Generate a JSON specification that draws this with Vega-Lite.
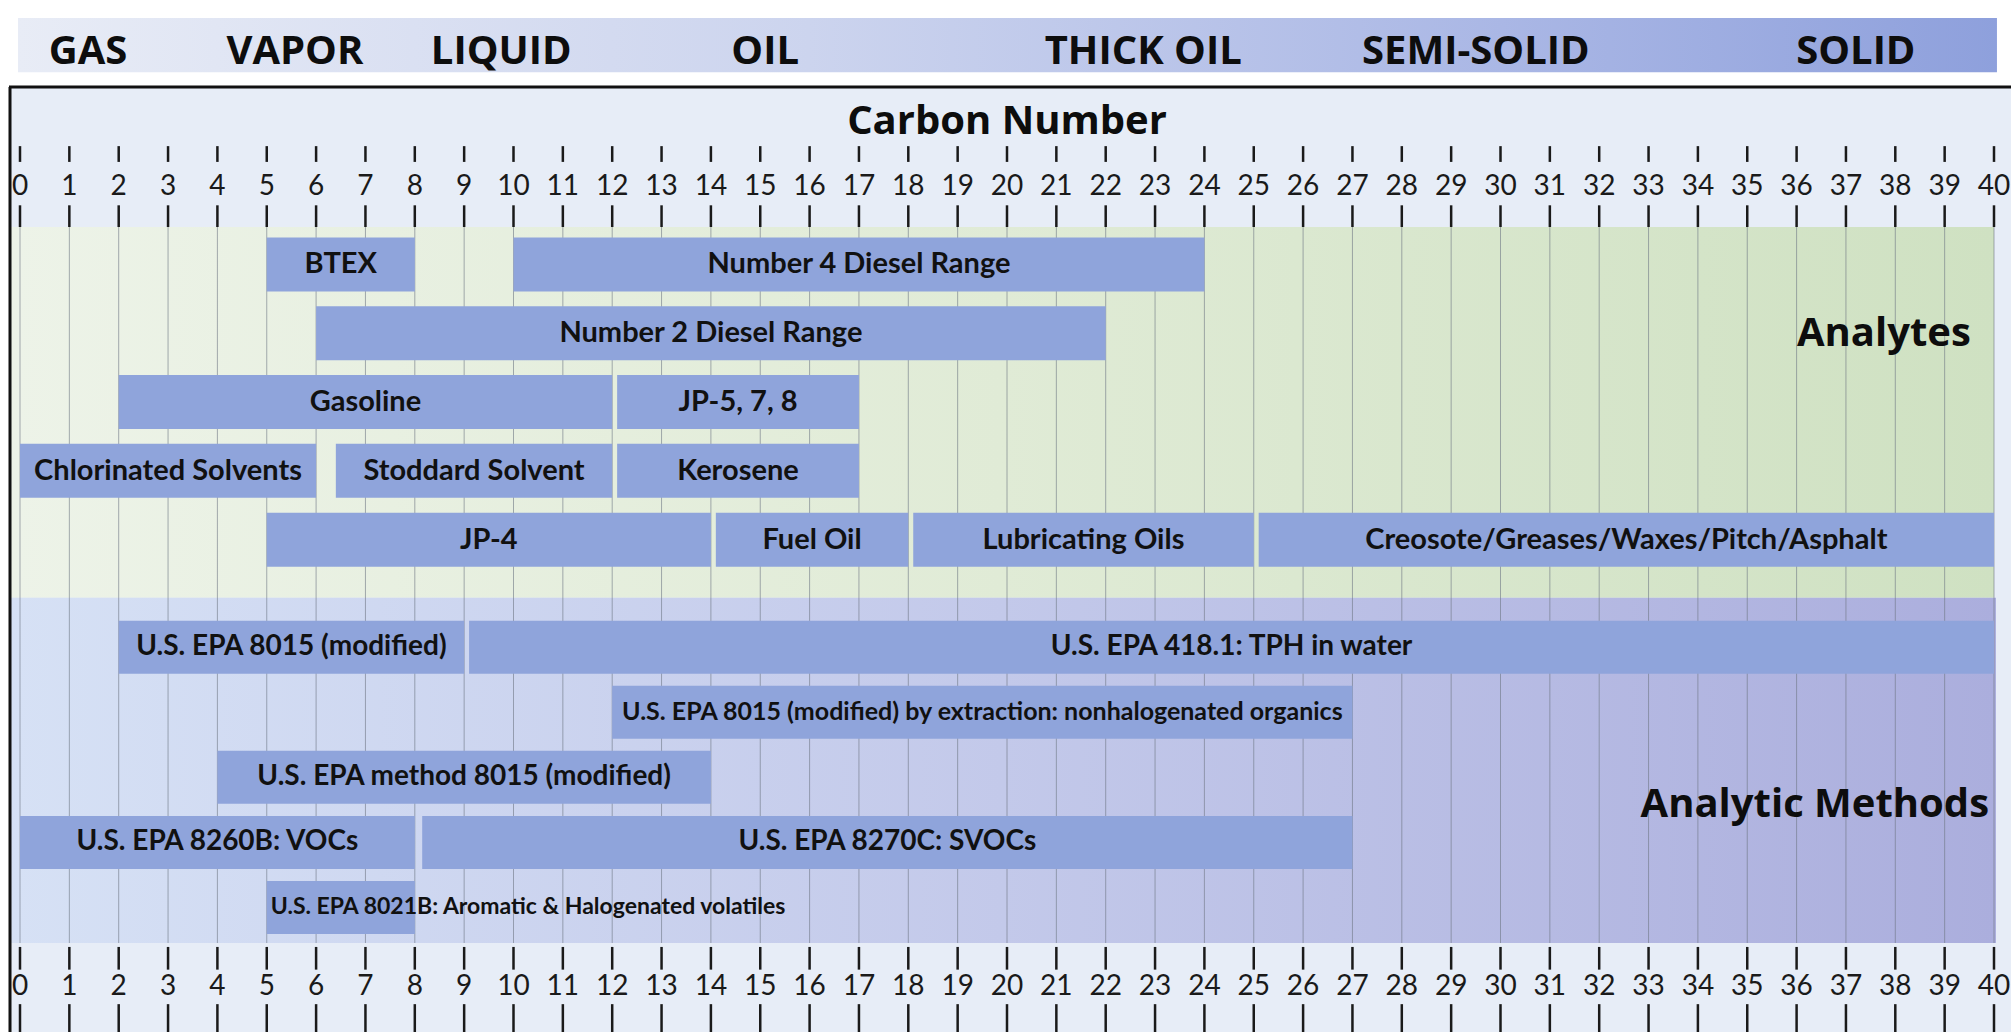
{
  "$schema": "https://vega.github.io/schema/vega-lite/v6.json",
  "width": 1974,
  "height": 726,
  "autosize": {"type": "none"},
  "padding": {"left": 20, "top": 222, "right": 17, "bottom": 84},
  "background": "#ffffff",
  "config": {"view": {"stroke": null}},
  "datasets": {
    "analytes": [
      {"name": "BTEX", "lane": 1, "start": 5, "end": 8},
      {"name": "Number 4 Diesel Range", "lane": 1, "start": 10, "end": 24},
      {"name": "Number 2 Diesel Range", "lane": 2, "start": 6, "end": 22},
      {"name": "Gasoline", "lane": 3, "start": 2, "end": 12},
      {"name": "JP-5, 7, 8", "lane": 3, "start": 12.1, "end": 17},
      {"name": "Chlorinated Solvents", "lane": 4, "start": 0, "end": 6},
      {"name": "Stoddard Solvent", "lane": 4, "start": 6.4, "end": 12},
      {"name": "Kerosene", "lane": 4, "start": 12.1, "end": 17},
      {"name": "JP-4", "lane": 5, "start": 5, "end": 14},
      {"name": "Fuel Oil", "lane": 5, "start": 14.1, "end": 18},
      {"name": "Lubricating Oils", "lane": 5, "start": 18.1, "end": 25},
      {"name": "Creosote/Greases/Waxes/Pitch/Asphalt", "lane": 5, "start": 25.1, "end": 40}
    ],
    "methods": [
      {"name": "U.S. EPA 8015 (modified)", "lane": 1, "start": 2, "end": 9},
      {"name": "U.S. EPA 418.1: TPH in water", "lane": 1, "start": 9.1, "end": 40},
      {"name": "U.S. EPA 8015 (modified) by extraction: nonhalogenated organics", "lane": 2, "start": 12, "end": 27},
      {"name": "U.S. EPA method 8015 (modified)", "lane": 3, "start": 4, "end": 14},
      {"name": "U.S. EPA 8260B: VOCs", "lane": 4, "start": 0, "end": 8},
      {"name": "U.S. EPA 8270C: SVOCs", "lane": 4, "start": 8.15, "end": 27},
      {"name": "U.S. EPA 8021B: Aromatic & Halogenated volatiles", "lane": 5, "start": 5, "end": 8}
    ],
    "states": [
      {"state": "GAS", "c": 1.38},
      {"state": "VAPOR", "c": 5.57},
      {"state": "LIQUID", "c": 9.75},
      {"state": "OIL", "c": 15.1},
      {"state": "THICK OIL", "c": 22.76},
      {"state": "SEMI-SOLID", "c": 29.5},
      {"state": "SOLID", "c": 37.2}
    ],
    "carbon": [
      {"c": 0}, {"c": 1}, {"c": 2}, {"c": 3}, {"c": 4}, {"c": 5}, {"c": 6}, {"c": 7}, {"c": 8}, {"c": 9},
      {"c": 10}, {"c": 11}, {"c": 12}, {"c": 13}, {"c": 14}, {"c": 15}, {"c": 16}, {"c": 17}, {"c": 18}, {"c": 19},
      {"c": 20}, {"c": 21}, {"c": 22}, {"c": 23}, {"c": 24}, {"c": 25}, {"c": 26}, {"c": 27}, {"c": 28}, {"c": 29},
      {"c": 30}, {"c": 31}, {"c": 32}, {"c": 33}, {"c": 34}, {"c": 35}, {"c": 36}, {"c": 37}, {"c": 38}, {"c": 39},
      {"c": 40}
    ]
  },
  "resolve": {"scale": {"y": "independent"}},
  "layer": [
    {
      "layer": [
        {
          "data": {"values": [{}]},
          "mark": {"type": "rect", "fill": "#e7edf7"},
          "encoding": {
            "x": {"datum": -0.2229, "type": "quantitative", "scale": {"domain": [0, 40], "nice": false, "zero": false}, "axis": null},
            "x2": {"datum": 40.5},
            "y": {"datum": -1.5806, "type": "quantitative", "scale": {"domain": [0.4552, 10.8638], "nice": false, "zero": false, "reverse": true}, "axis": null},
            "y2": {"datum": 12.2}
          }
        },
        {
          "data": {"values": [{}]},
          "mark": {"type": "rect", "fill": {"gradient": "linear", "x1": 0, "y1": 0, "x2": 1, "y2": 0, "stops": [{"offset": 0, "color": "#e8ecf6"}, {"offset": 0.4, "color": "#ccd4ee"}, {"offset": 0.75, "color": "#aab7e5"}, {"offset": 1, "color": "#8ea0dc"}]}},
          "encoding": {
            "x": {"datum": -0.0405, "type": "quantitative", "axis": null},
            "x2": {"datum": 40.06},
            "y": {"datum": -2.5842, "type": "quantitative", "axis": null},
            "y2": {"datum": -1.7957}
          }
        },
        {
          "data": {"name": "states"},
          "mark": {"type": "text", "font": "Open Sans", "fontWeight": "bold", "fontSize": 40, "baseline": "alphabetic", "align": "center", "color": "#0d0d0d"},
          "encoding": {
            "x": {"field": "c", "type": "quantitative", "axis": null},
            "y": {"datum": -1.9104, "type": "quantitative", "axis": null},
            "text": {"field": "state"}
          }
        },
        {
          "data": {"values": [{}]},
          "mark": {"type": "rect", "fill": {"gradient": "linear", "x1": 0, "y1": 0, "x2": 1, "y2": 0, "stops": [{"offset": 0, "color": "#edf3e8"}, {"offset": 0.5, "color": "#e0ebd6"}, {"offset": 1, "color": "#cfe1c2"}]}},
          "encoding": {
            "x": {"datum": -0.2229, "type": "quantitative", "axis": null},
            "x2": {"datum": 40},
            "y": {"datum": 0.4552, "type": "quantitative", "axis": null},
            "y2": {"datum": 5.8459}
          }
        },
        {
          "data": {"values": [{}]},
          "mark": {"type": "rect", "fill": {"gradient": "linear", "x1": 0, "y1": 0, "x2": 1, "y2": 0, "stops": [{"offset": 0, "color": "#d6e1f5"}, {"offset": 0.5, "color": "#c3c9ea"}, {"offset": 1, "color": "#abaedd"}]}},
          "encoding": {
            "x": {"datum": -0.2229, "type": "quantitative", "axis": null},
            "x2": {"datum": 40.04},
            "y": {"datum": 5.8459, "type": "quantitative", "axis": null},
            "y2": {"datum": 10.8638}
          }
        },
        {
          "data": {"name": "carbon"},
          "mark": {"type": "rule", "color": "#6e7684", "strokeWidth": 1, "opacity": 0.6},
          "encoding": {
            "x": {"field": "c", "type": "quantitative", "axis": null},
            "y": {"datum": 0.4552, "type": "quantitative", "axis": null},
            "y2": {"datum": 10.8638}
          }
        },
        {
          "data": {"name": "carbon"},
          "mark": {"type": "rule", "color": "#1a1a1a", "strokeWidth": 2.5},
          "encoding": {
            "x": {"field": "c", "type": "quantitative", "axis": null},
            "y": {"datum": -0.7204, "type": "quantitative", "axis": null},
            "y2": {"datum": -0.491}
          }
        },
        {
          "data": {"name": "carbon"},
          "mark": {"type": "rule", "color": "#1a1a1a", "strokeWidth": 2.5},
          "encoding": {
            "x": {"field": "c", "type": "quantitative", "axis": null},
            "y": {"datum": 0.1398, "type": "quantitative", "axis": null},
            "y2": {"datum": 0.4552}
          }
        },
        {
          "data": {"name": "carbon"},
          "mark": {"type": "rule", "color": "#1a1a1a", "strokeWidth": 2.5},
          "encoding": {
            "x": {"field": "c", "type": "quantitative", "axis": null},
            "y": {"datum": 10.9211, "type": "quantitative", "axis": null},
            "y2": {"datum": 11.2509}
          }
        },
        {
          "data": {"name": "carbon"},
          "mark": {"type": "rule", "color": "#1a1a1a", "strokeWidth": 2.5},
          "encoding": {
            "x": {"field": "c", "type": "quantitative", "axis": null},
            "y": {"datum": 11.7527, "type": "quantitative", "axis": null},
            "y2": {"datum": 12.2}
          }
        },
        {
          "data": {"name": "carbon"},
          "mark": {"type": "text", "font": "Lato", "fontSize": 28, "baseline": "alphabetic", "align": "center", "color": "#1a1a1a"},
          "encoding": {
            "x": {"field": "c", "type": "quantitative", "axis": null},
            "y": {"datum": -0.0036, "type": "quantitative", "axis": null},
            "text": {"field": "c", "type": "quantitative"}
          }
        },
        {
          "data": {"name": "carbon"},
          "mark": {"type": "text", "font": "Lato", "fontSize": 28, "baseline": "alphabetic", "align": "center", "color": "#1a1a1a"},
          "encoding": {
            "x": {"field": "c", "type": "quantitative", "axis": null},
            "y": {"datum": 11.6237, "type": "quantitative", "axis": null},
            "text": {"field": "c", "type": "quantitative"}
          }
        },
        {
          "data": {"values": [{}]},
          "mark": {"type": "text", "font": "Open Sans", "fontWeight": "bold", "fontSize": 40, "baseline": "alphabetic", "align": "center", "color": "#0d0d0d"},
          "encoding": {
            "x": {"datum": 20, "type": "quantitative", "axis": null},
            "y": {"datum": -0.8925, "type": "quantitative", "axis": null},
            "text": {"value": "Carbon Number"}
          }
        },
        {
          "data": {"name": "analytes"},
          "mark": {"type": "bar", "orient": "horizontal", "size": 54, "color": "#8fa4db"},
          "encoding": {
            "x": {"field": "start", "type": "quantitative", "axis": null},
            "x2": {"field": "end"},
            "y": {"field": "lane", "type": "quantitative", "axis": null}
          }
        },
        {
          "data": {"name": "analytes"},
          "transform": [{"calculate": "(datum.start + datum.end) / 2", "as": "mid"}],
          "mark": {"type": "text", "font": "Lato", "fontWeight": "bold", "fontSize": 29, "baseline": "middle", "align": "center", "color": "#111111"},
          "encoding": {
            "x": {"field": "mid", "type": "quantitative", "axis": null},
            "y": {"field": "lane", "type": "quantitative", "axis": null},
            "text": {"field": "name"}
          }
        },
        {
          "data": {"values": [{}]},
          "mark": {"type": "text", "font": "Open Sans", "fontWeight": "bold", "fontSize": 40, "baseline": "alphabetic", "align": "right", "color": "#0d0d0d"},
          "encoding": {
            "x": {"datum": 39.53, "type": "quantitative", "axis": null},
            "y": {"datum": 2.19, "type": "quantitative", "axis": null},
            "text": {"value": "Analytes"}
          }
        },
        {
          "data": {"values": [{}]},
          "mark": {"type": "text", "font": "Open Sans", "fontWeight": "bold", "fontSize": 40, "baseline": "alphabetic", "align": "right", "color": "#0d0d0d"},
          "encoding": {
            "x": {"datum": 39.9, "type": "quantitative", "axis": null},
            "y": {"datum": 9.0287, "type": "quantitative", "axis": null},
            "text": {"value": "Analytic Methods"}
          }
        },
        {
          "data": {"values": [{}]},
          "mark": {"type": "rule", "color": "#111111", "strokeWidth": 3},
          "encoding": {
            "x": {"datum": -0.2229, "type": "quantitative", "axis": null},
            "x2": {"datum": 40.5},
            "y": {"datum": -1.5806, "type": "quantitative", "axis": null}
          }
        },
        {
          "data": {"values": [{}]},
          "mark": {"type": "rule", "color": "#111111", "strokeWidth": 3},
          "encoding": {
            "x": {"datum": -0.2026, "type": "quantitative", "axis": null},
            "y": {"datum": -1.5806, "type": "quantitative", "axis": null},
            "y2": {"datum": 12.2}
          }
        }
      ]
    },
    {
      "data": {"name": "methods"},
      "layer": [
        {
          "mark": {"type": "bar", "orient": "horizontal", "size": 53, "color": "#8fa4db"},
          "encoding": {
            "x": {"field": "start", "type": "quantitative", "axis": null},
            "x2": {"field": "end"},
            "y": {"field": "lane", "type": "quantitative", "scale": {"domain": [-5.4545, 5.5455], "nice": false, "zero": false, "reverse": true}, "axis": null}
          }
        },
        {
          "transform": [
            {"filter": "datum.lane != 5"},
            {"calculate": "(datum.start + datum.end) / 2", "as": "mid"}
          ],
          "mark": {"type": "text", "font": "Lato", "fontWeight": "bold", "baseline": "middle", "align": "center", "color": "#111111"},
          "encoding": {
            "x": {"field": "mid", "type": "quantitative", "axis": null},
            "y": {"field": "lane", "type": "quantitative", "axis": null},
            "text": {"field": "name"},
            "size": {"condition": {"test": "datum.lane == 2", "value": 25}, "value": 28}
          }
        },
        {
          "transform": [{"filter": "datum.lane == 5"}],
          "mark": {"type": "text", "font": "Lato", "fontWeight": "bold", "fontSize": 23, "baseline": "middle", "align": "left", "dx": 4, "color": "#111111"},
          "encoding": {
            "x": {"field": "start", "type": "quantitative", "axis": null},
            "y": {"field": "lane", "type": "quantitative", "axis": null},
            "text": {"field": "name"}
          }
        }
      ]
    }
  ]
}
